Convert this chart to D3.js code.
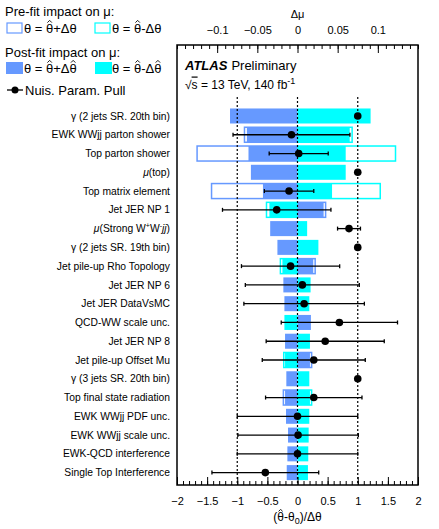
<!DOCTYPE html>
<html>
<head>
<meta charset="utf-8">
<script src="https://cdn.jsdelivr.net/npm/d3@7"></script>
<style>
  body { margin: 0; background: #fff; }
  svg { font-family: "Liberation Sans", Arial, sans-serif; }
</style>
</head>
<body>
<div id="chart"></div>
<script>
// Data (top row first)
const labels = [
  'γ (2 jets SR. 20th bin)', 'EWK WWjj parton shower', 'Top parton shower', 'μ(top)',
  'Top matrix element', 'Jet JER NP 1', 'μ(Strong W+W-jj)', 'γ (2 jets SR. 19th bin)',
  'Jet pile-up Rho Topology', 'Jet JER NP 6', 'Jet JER DataVsMC', 'QCD-WW scale unc.',
  'Jet JER NP 8', 'Jet pile-up Offset Mu', 'γ (3 jets SR. 20th bin)', 'Top final state radiation',
  'EWK WWjj PDF unc.', 'EWK WWjj scale unc.', 'EWK-QCD interference', 'Single Top Interference'
]
// post-fit impact on mu for theta = hat + delta (blue) and hat - delta (cyan)
const postUp = [-0.084, -0.063, -0.061, -0.058, -0.043, 0.0325, -0.034, -0.025, 0.0196, -0.0176,
  -0.0163, 0.0167, -0.0155, 0.0155, -0.0139, -0.0155, -0.0143, -0.0118, -0.0126, -0.0134]
const postDown = [0.091, 0.065, 0.060, 0.060, 0.043, -0.035, 0.012, 0.026, -0.0188, 0.0163,
  0.0147, -0.0163, 0.0155, -0.0155, 0.0147, 0.0155, 0.0147, 0.0139, 0.0134, 0.013]
// pre-fit impact (null = not drawn)
const preUp = [null, -0.066, -0.125, null, -0.107, 0.035, null, null, 0.022, null,
  null, null, null, 0.0176, null, -0.0176, null, null, null, null]
const preDown = [null, 0.068, 0.122, null, 0.103, -0.0386, null, null, -0.0213, null,
  null, null, null, -0.0171, null, 0.0176, null, null, null, null]
// nuisance parameter pulls
const pull = [1.0, -0.10, 0.02, 1.0, -0.14, -0.345, 0.855, 1.0, -0.115, 0.08,
  0.11, 0.695, 0.46, 0.27, 1.0, 0.27, 0.0, 0.01, 0.0, -0.534]
const pullErr = [null, 0.97, 0.49, null, 0.41, 0.9, 0.19, null, 0.815, 0.946,
  1.0, 0.965, 0.98, 0.855, null, 0.8, 1.0, 1.0, 1.0, 0.886]

const muTicks = [-0.1, -0.05, 0, 0.05, 0.1]
const pullTicks = [-2, -1.5, -1, -0.5, 0, 0.5, 1, 1.5, 2]

const blue = '#6699ff'
const cyan = '#00ffff'

const rows = labels.map((l, i) => ({
  label: l, postUp: postUp[i], postDown: postDown[i],
  preUp: preUp[i], preDown: preDown[i], pull: pull[i], err: pullErr[i]
}))

// Dimensions
const dims = { width: 439, height: 529, left: 177, right: 418, top: 45, bottom: 485 }

const svg = d3.select('#chart').append('svg')
  .attr('width', dims.width)
  .attr('height', dims.height)

// Scales
const xPull = d3.scaleLinear().domain([-2, 2]).range([dims.left, dims.right])
const xMu = d3.scaleLinear().domain([-0.15, 0.15]).range([dims.left, dims.right])
const yScale = d3.scaleBand().domain(labels).range([106.6, 482]).paddingInner(0.2).paddingOuter(0.1)

const barRect = (sel, key) => sel
  .attr('x', d => Math.min(xMu(0), xMu(d[key])))
  .attr('width', d => Math.abs(xMu(d[key]) - xMu(0)))
  .attr('y', d => yScale(d.label))
  .attr('height', yScale.bandwidth())

// small hat drawn over chosen characters of a text (theta hat)
const addHats = (t, idx, size, baseline) => {
  const node = t.node()
  idx.forEach(i => {
    const ext = node.getExtentOfChar(i)
    const cx = ext.x + ext.width / 2
    const hw = 0.17 * size
    svg.append('path')
      .attr('d', `M${cx - hw},${baseline - 0.8 * size}L${cx},${baseline - 0.97 * size}L${cx + hw},${baseline - 0.8 * size}`)
      .attr('fill', 'none').attr('stroke', 'black').attr('stroke-width', 0.9)
  })
}

// Pre-fit outlines
const preRows = rows.filter(d => d.preUp !== null)
svg.append('g').selectAll('rect').data(preRows).join('rect')
  .call(barRect, 'preUp').attr('fill', 'none').attr('stroke', blue).attr('stroke-width', 1.5)
svg.append('g').selectAll('rect').data(preRows).join('rect')
  .call(barRect, 'preDown').attr('fill', 'none').attr('stroke', cyan).attr('stroke-width', 1.5)

// Post-fit bars
svg.append('g').selectAll('rect').data(rows).join('rect')
  .call(barRect, 'postUp').attr('fill', blue)
svg.append('g').selectAll('rect').data(rows).join('rect')
  .call(barRect, 'postDown').attr('fill', cyan)

// Dashed lines at -1, 0, 1
svg.append('g').selectAll('line').data([-1, 0, 1]).join('line')
  .attr('x1', d => xPull(d)).attr('x2', d => xPull(d))
  .attr('y1', 97).attr('y2', dims.bottom)
  .attr('stroke', 'black').attr('stroke-width', 1.2).attr('stroke-dasharray', '2,2')

// Pull error bars
const errRows = rows.filter(d => d.err !== null)
const yc = d => yScale(d.label) + yScale.bandwidth() / 2
const errG = svg.append('g').attr('stroke', 'black').attr('stroke-width', 1.3)
errG.selectAll('.eb').data(errRows).join('line')
  .attr('x1', d => xPull(d.pull - d.err)).attr('x2', d => xPull(d.pull + d.err))
  .attr('y1', yc).attr('y2', yc)
errG.selectAll('.capL').data(errRows).join('line')
  .attr('x1', d => xPull(d.pull - d.err)).attr('x2', d => xPull(d.pull - d.err))
  .attr('y1', d => yc(d) - 2).attr('y2', d => yc(d) + 2)
errG.selectAll('.capR').data(errRows).join('line')
  .attr('x1', d => xPull(d.pull + d.err)).attr('x2', d => xPull(d.pull + d.err))
  .attr('y1', d => yc(d) - 2).attr('y2', d => yc(d) + 2)

svg.append('g').selectAll('circle').data(rows).join('circle')
  .attr('cx', d => xPull(d.pull)).attr('cy', yc).attr('r', 3.8).attr('fill', 'black')

// Frame
svg.append('rect')
  .attr('x', dims.left).attr('y', dims.top)
  .attr('width', dims.right - dims.left).attr('height', dims.bottom - dims.top)
  .attr('fill', 'none').attr('stroke', 'black').attr('stroke-width', 1.5)

// Axes
const styleAxis = g => {
  g.select('.domain').remove()
  g.selectAll('line').attr('stroke', 'black').attr('stroke-width', 1)
  g.selectAll('text').attr('font-size', 11).attr('fill', 'black').attr('font-family', null)
}
// top (delta mu)
svg.append('g').attr('transform', `translate(0,${dims.top})`)
  .call(d3.axisTop(xMu).tickValues(d3.range(-0.15, 0.1501, 0.01)).tickSize(-4).tickFormat(''))
  .call(styleAxis)
svg.append('g').attr('transform', `translate(0,${dims.top})`)
  .call(d3.axisTop(xMu).tickValues(muTicks).tickSize(-8).tickPadding(11)
    .tickFormat(d => d === 0 ? '0' : d3.format('.2~f')(d).replace('-', '\u2212')))
  .call(styleAxis)
svg.append('text').attr('x', xMu(0)).attr('y', 18).attr('text-anchor', 'middle')
  .attr('font-size', 11).text('Δμ')

// bottom (pull)
svg.append('g').attr('transform', `translate(0,${dims.bottom})`)
  .call(d3.axisBottom(xPull).tickValues(d3.range(-2, 2.001, 0.1)).tickSize(-4).tickFormat(''))
  .call(styleAxis)
svg.append('g').attr('transform', `translate(0,${dims.bottom})`)
  .call(d3.axisBottom(xPull).tickValues(pullTicks).tickSize(-8).tickPadding(12)
    .tickFormat(d => d3.format('~g')(d).replace('-', '\u2212')))
  .call(styleAxis)

const xTitle = svg.append('text').attr('x', xPull(0)).attr('y', 521)
  .attr('text-anchor', 'middle').attr('font-size', 12)
xTitle.append('tspan').text('(θ-θ')
xTitle.append('tspan').attr('font-size', 9).attr('dy', 3).text('0')
xTitle.append('tspan').attr('dy', -3).text(')/Δθ')
addHats(xTitle, [1], 12, 521)

// Row labels
const labG = svg.append('g').attr('font-size', 10.3).attr('text-anchor', 'end')
rows.forEach(d => {
  const t = labG.append('text').attr('x', 170).attr('y', yc(d)).attr('dy', '0.35em')
  if (d.label === 'μ(top)') {
    t.append('tspan').attr('font-style', 'italic').text('μ')
    t.append('tspan').text('(top)')
  } else if (d.label.startsWith('μ(Strong')) {
    t.append('tspan').attr('font-style', 'italic').text('μ')
    t.append('tspan').text('(Strong W')
    t.append('tspan').attr('font-size', 7).attr('dy', -4).text('+')
    t.append('tspan').attr('dy', 4).text('W')
    t.append('tspan').attr('font-size', 7).attr('dy', -4).text('-')
    t.append('tspan').attr('dy', 4).attr('font-style', 'italic').text('jj')
    t.append('tspan').text(')')
  } else {
    t.text(d.label)
  }
})

// ATLAS label
const atlas = svg.append('text').attr('x', 185).attr('y', 70).attr('font-size', 13)
atlas.append('tspan').attr('font-weight', 'bold').attr('font-style', 'italic').text('ATLAS')
atlas.append('tspan').attr('dx', 4).text('Preliminary')
const ener = svg.append('text').attr('x', 185).attr('y', 88.5).attr('font-size', 12)
ener.append('tspan').text('√')
ener.append('tspan').attr('text-decoration', 'overline').text('s')
ener.append('tspan').text(' = 13 TeV, 140 fb')
ener.append('tspan').attr('font-size', 9).attr('dy', -5).text('-1')

// Legend
const leg = svg.append('g').attr('font-size', 13)
leg.append('text').attr('x', 5).attr('y', 16).text('Pre-fit impact on μ:')
leg.append('rect').attr('x', 7).attr('y', 23).attr('width', 15).attr('height', 10)
  .attr('fill', 'white').attr('stroke', blue).attr('stroke-width', 1.2)
leg.append('rect').attr('x', 95).attr('y', 23).attr('width', 15).attr('height', 10)
  .attr('fill', 'white').attr('stroke', cyan).attr('stroke-width', 1.2)
leg.append('text').attr('x', 5).attr('y', 57).text('Post-fit impact on μ:')
leg.append('rect').attr('x', 6).attr('y', 62).attr('width', 17).attr('height', 12).attr('fill', blue)
leg.append('rect').attr('x', 95).attr('y', 62).attr('width', 17).attr('height', 12).attr('fill', cyan)

const legEntry = (x, y, sign, hatDelta) => {
  const t = leg.append('text').attr('x', x).attr('y', y).text(`θ = θ${sign}Δθ`)
  addHats(t, hatDelta ? [4, 7] : [4], 13, y)
}
legEntry(24, 33, '+', false)
legEntry(112, 33, '-', false)
legEntry(24, 73, '+', true)
legEntry(112, 73, '-', true)

leg.append('line').attr('x1', 7).attr('x2', 23).attr('y1', 90).attr('y2', 90)
  .attr('stroke', 'black').attr('stroke-width', 1.3)
leg.append('circle').attr('cx', 15).attr('cy', 90).attr('r', 3.5).attr('fill', 'black')
leg.append('text').attr('x', 25).attr('y', 95).text('Nuis. Param. Pull')
</script>
</body>
</html>
